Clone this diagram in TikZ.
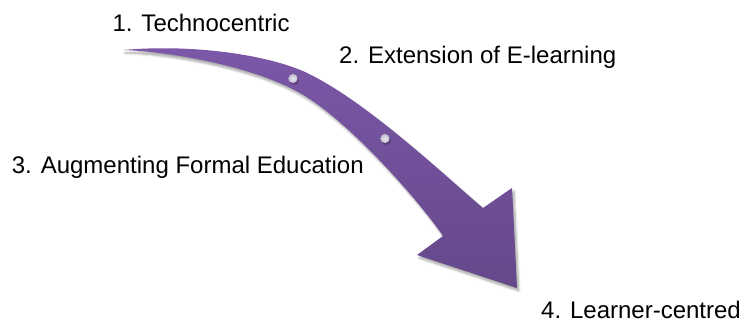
\documentclass[tikz,border=0pt]{standalone}
\usepackage{fontspec}
\setmainfont{Liberation Sans}
\usetikzlibrary{shadows.blur}
\definecolor{arrowtop}{RGB}{124,88,168}
\definecolor{arrowbot}{RGB}{101,72,138}
\definecolor{dotcol}{RGB}{214,208,228}
\tikzset{
  lbl/.style={anchor=base west, inner sep=0pt, font=\fontsize{24}{28}\selectfont, text=black},
}
\begin{document}
\begin{tikzpicture}[x=1pt,y=-1pt]
\useasboundingbox (0,0) rectangle (742,323);
% arrow body
\shade[top color=arrowtop, bottom color=arrowbot,
  blur shadow={shadow xshift=2pt, shadow yshift=-3pt, shadow blur steps=6, shadow opacity=35}]
  (123,50) .. controls (190,44) and (265,54) .. (305,72)
  .. controls (365,100) and (443,174) .. (483,208)
  -- (512,188) -- (517,288) -- (417,255) -- (443,236)
  .. controls (423,206) and (355,127) .. (305,96)
  .. controls (255,65) and (163,51) .. (123,50)
  -- cycle;
% dots
\fill[black, opacity=0.2] (294.5,80.5) circle (4.6);
\shade[inner color=dotcol!55!white, outer color=dotcol!80!gray] (293,78.5) circle (4.5);
\fill[black, opacity=0.2] (386.5,140.5) circle (4.6);
\shade[inner color=dotcol!55!white, outer color=dotcol!80!gray] (385,138.5) circle (4.5);
% labels
\node[lbl] (t1) at (112.4,31.5) {1. Technocentric};
\node[lbl] (t2) at (339,64) {2. Extension of E-learning};
\node[lbl] (t3) at (11.7,173.3) {3. Augmenting Formal Education};
\node[lbl] (t4) at (541,318) {4. Learner-centred};
\end{tikzpicture}
\end{document}
